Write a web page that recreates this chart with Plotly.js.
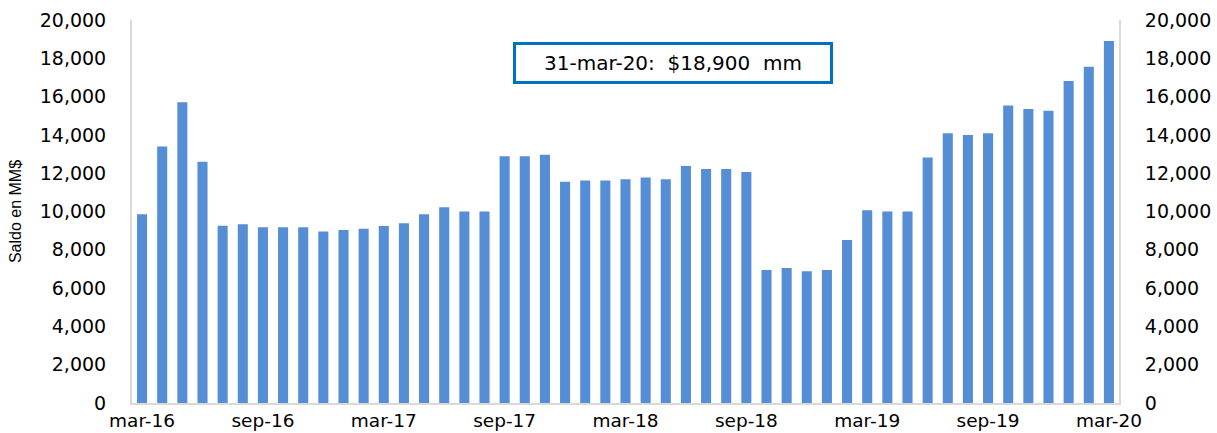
<!DOCTYPE html>
<html>
<head>
<meta charset="utf-8">
<script src="https://cdn.plot.ly/plotly-3.0.1.min.js"></script>
<style>
  html, body { margin: 0; padding: 0; background: #fff; }
  #chart { width: 1217px; height: 433px; }
</style>
</head>
<body>
<div id="chart"></div>
<script>
  // meses mar-16 .. mar-20
  const months = [
    "mar-16", "abr-16", "may-16", "jun-16", "jul-16", "ago-16", "sep-16", "oct-16", "nov-16", "dic-16",
    "ene-17", "feb-17", "mar-17", "abr-17", "may-17", "jun-17", "jul-17", "ago-17", "sep-17", "oct-17",
    "nov-17", "dic-17", "ene-18", "feb-18", "mar-18", "abr-18", "may-18", "jun-18", "jul-18", "ago-18",
    "sep-18", "oct-18", "nov-18", "dic-18", "ene-19", "feb-19", "mar-19", "abr-19", "may-19", "jun-19",
    "jul-19", "ago-19", "sep-19", "oct-19", "nov-19", "dic-19", "ene-20", "feb-20", "mar-20"
  ];
  const saldo = [
    9850, 13400, 15700, 12600, 9250, 9330, 9180, 9180, 9180, 8960,
    9030, 9100, 9240, 9380, 9850, 10220, 10000, 10000, 12890, 12890,
    12960, 11550, 11620, 11620, 11690, 11780, 11690, 12370, 12220, 12220,
    12060, 6940, 7050, 6880, 6940, 8510, 10060, 10000, 10000, 12820,
    14080, 13990, 14080, 15540, 15350, 15260, 16810, 17560, 18900
  ];
  const tickLabels = ["mar-16", "sep-16", "mar-17", "sep-17", "mar-18", "sep-18", "mar-19", "sep-19", "mar-20"];
  const note = "31-mar-20: \u00a0$18,900 \u00a0mm";

  const tickFont = { family: "DejaVu Sans, sans-serif", size: 18.5, color: "#000" };

  const data = [
    {
      type: "bar",
      x: months,
      y: saldo,
      marker: { color: "#558ed5" },
      hoverinfo: "x+y"
    },
    {
      type: "scatter",
      mode: "markers",
      x: months,
      y: saldo,
      yaxis: "y2",
      marker: { opacity: 0 },
      hoverinfo: "skip",
      showlegend: false
    }
  ];

  const layout = {
    width: 1217,
    height: 433,
    margin: { l: 132, r: 98, t: 20, b: 30 },
    paper_bgcolor: "#fff",
    plot_bgcolor: "#fff",
    showlegend: false,
    bargap: 0.5,
    xaxis: {
      type: "category",
      range: [-0.5, months.length - 0.5],
      tickmode: "array",
      tickvals: tickLabels,
      ticktext: tickLabels,
      ticks: "",
      tickfont: tickFont,
      ticklabelstandoff: 0,
      showgrid: false,
      showline: true,
      linecolor: "#d9d9d9",
      linewidth: 2,
      zeroline: false
    },
    yaxis: {
      range: [0, 20000],
      dtick: 2000,
      tickformat: ",d",
      ticks: "",
      tickfont: { family: "DejaVu Sans, sans-serif", size: 19, color: "#000" },
      ticklabelstandoff: 20,
      showgrid: false,
      showline: true,
      linecolor: "#d9d9d9",
      linewidth: 2,
      zeroline: false,
      title: {
        text: "Saldo en MM$",
        font: { family: "Liberation Sans, Arial, sans-serif", size: 16, color: "#000" },
        standoff: 14
      }
    },
    yaxis2: {
      overlaying: "y",
      side: "right",
      range: [0, 20000],
      dtick: 2000,
      tickformat: ",d",
      ticks: "",
      tickfont: { family: "DejaVu Sans, sans-serif", size: 19, color: "#000" },
      ticklabelstandoff: 20,
      showgrid: false,
      showline: true,
      linecolor: "#d9d9d9",
      linewidth: 2,
      zeroline: false
    },
    annotations: [
      {
        xref: "paper",
        yref: "paper",
        x: 0.548,
        y: 0.888,
        xanchor: "center",
        yanchor: "middle",
        showarrow: false,
        text: note,
        font: { family: "DejaVu Sans, sans-serif", size: 20, color: "#000" },
        width: 310,
        height: 32,
        borderpad: 2,
        borderwidth: 3,
        bordercolor: "#0070c0",
        bgcolor: "#fff"
      }
    ]
  };

  Plotly.newPlot("chart", data, layout, { displayModeBar: false, staticPlot: true });
</script>
</body>
</html>
